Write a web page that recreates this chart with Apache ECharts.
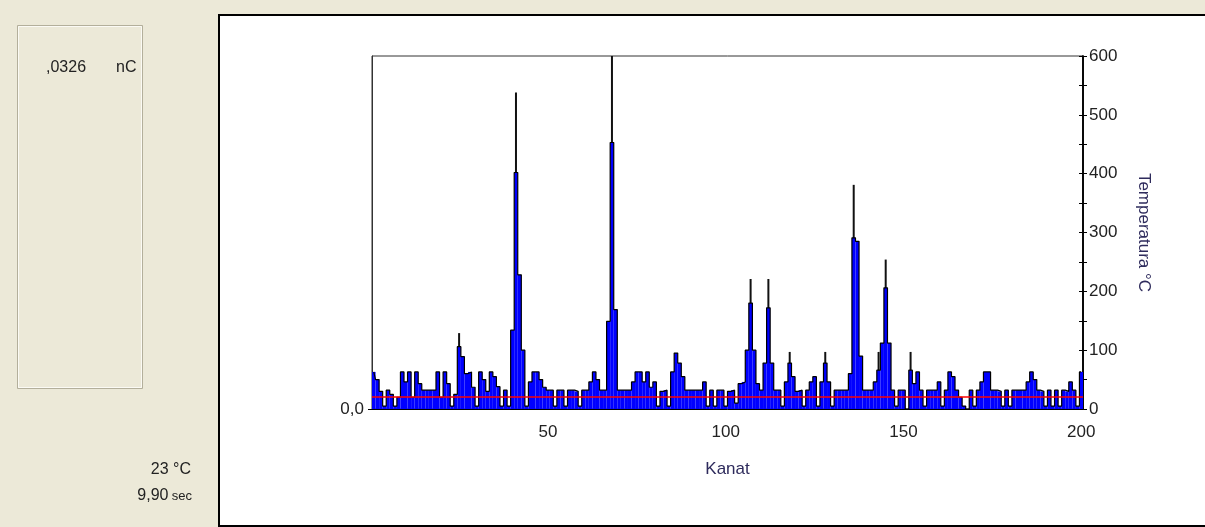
<!DOCTYPE html>
<html>
<head>
<meta charset="utf-8">
<script src="https://cdn.jsdelivr.net/npm/echarts@6/dist/echarts.min.js"></script>
<style>
  html, body { margin: 0; padding: 0; background: #ECE9D8; }
  #chart { width: 1205px; height: 527px; }
</style>
</head>
<body>
<div id="chart"></div>
<script>
// channel counts (Kanal 1..200)
var counts = [
  63, 50, 30, 5, 32, 25, 5, 20, 63, 46,
  63, 20, 63, 43, 32, 32, 32, 32, 63, 20,
  63, 43, 5, 25, 106, 89, 60, 63, 37, 5,
  63, 50, 30, 63, 55, 38, 5, 32, 5, 134,
  402, 228, 100, 5, 46, 63, 63, 50, 37, 32,
  32, 5, 32, 32, 5, 32, 32, 30, 5, 32,
  32, 46, 63, 50, 32, 32, 149, 453, 169, 32,
  32, 32, 32, 46, 63, 63, 46, 63, 37, 46,
  5, 30, 32, 5, 63, 95, 78, 55, 32, 32,
  32, 32, 32, 46, 5, 32, 5, 32, 32, 5,
  30, 32, 10, 43, 46, 100, 180, 100, 43, 32,
  78, 172, 78, 32, 32, 5, 46, 78, 55, 30,
  32, 5, 32, 46, 55, 5, 46, 78, 46, 5,
  32, 32, 32, 32, 60, 291, 285, 90, 32, 32,
  32, 46, 66, 112, 206, 112, 32, 5, 32, 32,
  0, 66, 43, 63, 32, 5, 32, 32, 32, 46,
  5, 32, 63, 55, 32, 20, 5, 0, 32, 5,
  32, 46, 63, 63, 32, 32, 30, 5, 32, 5,
  32, 32, 32, 32, 46, 63, 50, 32, 30, 5,
  32, 5, 32, 5, 32, 30, 46, 32, 5, 63
];

// thin peak lines above the blue bars
var spikeChannels = [25, 41, 68, 107, 112, 118, 128, 136, 143, 145, 152];
var spikeValues   = [129, 538, 600, 221, 221, 97, 97, 381, 97, 254, 97];

var threshold = 21;   // red line
var xLabels = [50, 100, 150, 200];

var channels = [];
for (var i = 1; i <= counts.length; i++) channels.push(String(i));

var spikes = channels.map(function () { return '-'; });
spikeChannels.forEach(function (c, k) { spikes[c - 1] = spikeValues[k]; });

var font = '"Liberation Sans", Arial, sans-serif';
var ink = '#222';
var nameColor = '#2e2b5c';

var chart = echarts.init(document.getElementById('chart'));

chart.setOption({
  backgroundColor: '#ECE9D8',
  animation: false,
  textStyle: { fontFamily: font },
  graphic: [
    { type: 'rect', z: -10, shape: { x: 219, y: 15, width: 995, height: 511 },
      style: { fill: '#fff', stroke: '#000', lineWidth: 2 } },
    { type: 'rect', shape: { x: 17.5, y: 25.5, width: 125, height: 363 },
      style: { fill: 'none', stroke: '#b3af9b', lineWidth: 1 } },
    { type: 'rect', shape: { x: 18.5, y: 26.5, width: 123, height: 361 },
      style: { fill: 'none', stroke: '#fbfaf4', lineWidth: 1 } },
    { type: 'text', left: 46, top: 60,
      style: { text: ',0326', font: '16px ' + font, fill: ink } },
    { type: 'text', left: 116, top: 60,
      style: { text: 'nC', font: '16px ' + font, fill: ink } },
    { type: 'text', right: 1205 - 191, top: 462,
      style: { text: '23 °C', font: '16px ' + font, fill: ink, align: 'right' } },
    { type: 'text', right: 1205 - 192, top: 488,
      style: {
        text: '{a|9,90} {b|sec}', fill: ink, align: 'right',
        rich: {
          a: { fontSize: 16, fontFamily: font, fill: ink },
          b: { fontSize: 13, fontFamily: font, fill: ink }
        }
      } }
  ],
  grid: {
    left: 372, right: 122, top: 56, bottom: 118,
    show: true, borderColor: '#333', borderWidth: 1, backgroundColor: 'transparent'
  },
  xAxis: [{
    type: 'category',
    data: channels,
    name: 'Kanat',
    nameLocation: 'middle',
    nameGap: 52,
    nameTextStyle: { color: nameColor, fontSize: 17 },
    axisLine: { lineStyle: { color: '#000', width: 1 } },
    axisTick: {
      alignWithLabel: true, length: 4, lineStyle: { color: '#000' },
      interval: function (idx) { return (idx + 1) % 10 === 0; }
    },
    axisLabel: {
      color: ink, fontSize: 17, margin: 15,
      interval: function (idx, val) { return xLabels.indexOf(+val) >= 0; }
    },
    splitLine: { show: false }
  }, {
    type: 'category', data: channels, show: false, position: 'bottom'
  }],
  yAxis: [{
    type: 'value', position: 'right', min: 0, max: 600, interval: 50,
    name: 'Temperatura °C',
    nameLocation: 'middle',
    nameRotate: -90,
    nameGap: 52,
    nameTextStyle: { color: nameColor, fontSize: 17 },
    axisLine: { show: true, lineStyle: { color: '#000', width: 1.5 } },
    axisTick: { show: true, length: 4, lineStyle: { color: '#000' } },
    axisLabel: {
      color: ink, fontSize: 17, margin: 6,
      formatter: function (v) { return v % 100 === 0 ? String(v) : ''; }
    },
    splitLine: { show: false }
  }, {
    type: 'value', position: 'right', offset: 0, min: 0, max: 600, interval: 50,
    axisLine: { show: true, lineStyle: { color: '#000', width: 1.5 } },
    axisTick: { show: true, inside: false, length: -4, lineStyle: { color: '#000' } },
    axisLabel: { show: false },
    splitLine: { show: false }
  }, {
    type: 'value', position: 'left', min: 0, max: 600,
    axisLine: { show: true, lineStyle: { color: '#333' } },
    axisTick: { show: true, length: 4, customValues: [0], lineStyle: { color: '#000' } },
    axisLabel: { color: ink, fontSize: 17, margin: 8, customValues: [0],
      formatter: function () { return '0,0'; } },
    splitLine: { show: false }
  }],
  series: [{
    name: 'peak',
    type: 'bar',
    xAxisIndex: 1,
    data: spikes,
    barWidth: 2,
    itemStyle: { color: '#111' },
    z: 1
  }, {
    name: 'Kanat',
    type: 'bar',
    data: counts,
    barCategoryGap: 0,
    itemStyle: { color: '#0000ff' },
    z: 2,
    markLine: {
      symbol: 'none', silent: true, label: { show: false },
      lineStyle: { color: '#ff0000', width: 1.5, type: 'solid' },
      data: [{ yAxis: threshold }]
    }
  }, {
    name: 'outline',
    type: 'line',
    data: counts,
    step: 'middle',
    symbol: 'none',
    lineStyle: { color: '#000', width: 1.2 },
    z: 3
  }]
});
</script>
</body>
</html>
